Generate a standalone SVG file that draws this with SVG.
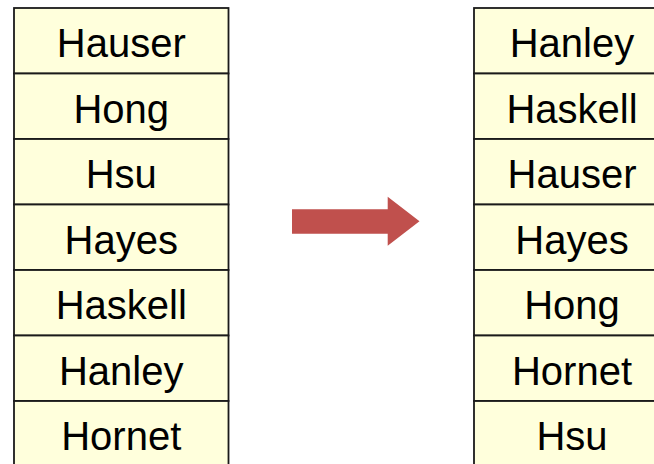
<svg xmlns="http://www.w3.org/2000/svg" width="654" height="464" viewBox="0 0 654 464">
<style>
.cell{fill:#FFFFDC;stroke:#1a1a1a;stroke-width:1.8}
.t{font-family:"Liberation Sans",Arial,sans-serif;font-size:40px;fill:#000;text-anchor:middle}
</style>
<rect width="654" height="464" fill="#fff"/>
<g id="left">
<g id="l1"><rect class="cell" x="14" y="8" width="214.5" height="65.5"/><text class="t" x="121.25" y="57">Hauser</text></g>
<g id="l2"><rect class="cell" x="14" y="73.5" width="214.5" height="65.5"/><text class="t" x="121.25" y="122.5">Hong</text></g>
<g id="l3"><rect class="cell" x="14" y="139" width="214.5" height="65.5"/><text class="t" x="121.25" y="188">Hsu</text></g>
<g id="l4"><rect class="cell" x="14" y="204.5" width="214.5" height="65.5"/><text class="t" x="121.25" y="253.5">Hayes</text></g>
<g id="l5"><rect class="cell" x="14" y="270" width="214.5" height="65.5"/><text class="t" x="121.25" y="319">Haskell</text></g>
<g id="l6"><rect class="cell" x="14" y="335.5" width="214.5" height="65.5"/><text class="t" x="121.25" y="384.5">Hanley</text></g>
<g id="l7"><rect class="cell" x="14" y="401" width="214.5" height="65.5"/><text class="t" x="121.25" y="450">Hornet</text></g>
</g>
<g id="right">
<g id="r1"><rect class="cell" x="474" y="8" width="196" height="65.5"/><text class="t" x="572" y="57">Hanley</text></g>
<g id="r2"><rect class="cell" x="474" y="73.5" width="196" height="65.5"/><text class="t" x="572" y="122.5">Haskell</text></g>
<g id="r3"><rect class="cell" x="474" y="139" width="196" height="65.5"/><text class="t" x="572" y="188">Hauser</text></g>
<g id="r4"><rect class="cell" x="474" y="204.5" width="196" height="65.5"/><text class="t" x="572" y="253.5">Hayes</text></g>
<g id="r5"><rect class="cell" x="474" y="270" width="196" height="65.5"/><text class="t" x="572" y="319">Hong</text></g>
<g id="r6"><rect class="cell" x="474" y="335.5" width="196" height="65.5"/><text class="t" x="572" y="384.5">Hornet</text></g>
<g id="r7"><rect class="cell" x="474" y="401" width="196" height="65.5"/><text class="t" x="572" y="450">Hsu</text></g>
</g>
<g id="connectors">
<polygon points="292,209.3 387.7,209.3 387.7,196.7 419.5,221.3 387.7,245.7 387.7,233.7 292,233.7" fill="#C0504D"/>
</g>
</svg>
